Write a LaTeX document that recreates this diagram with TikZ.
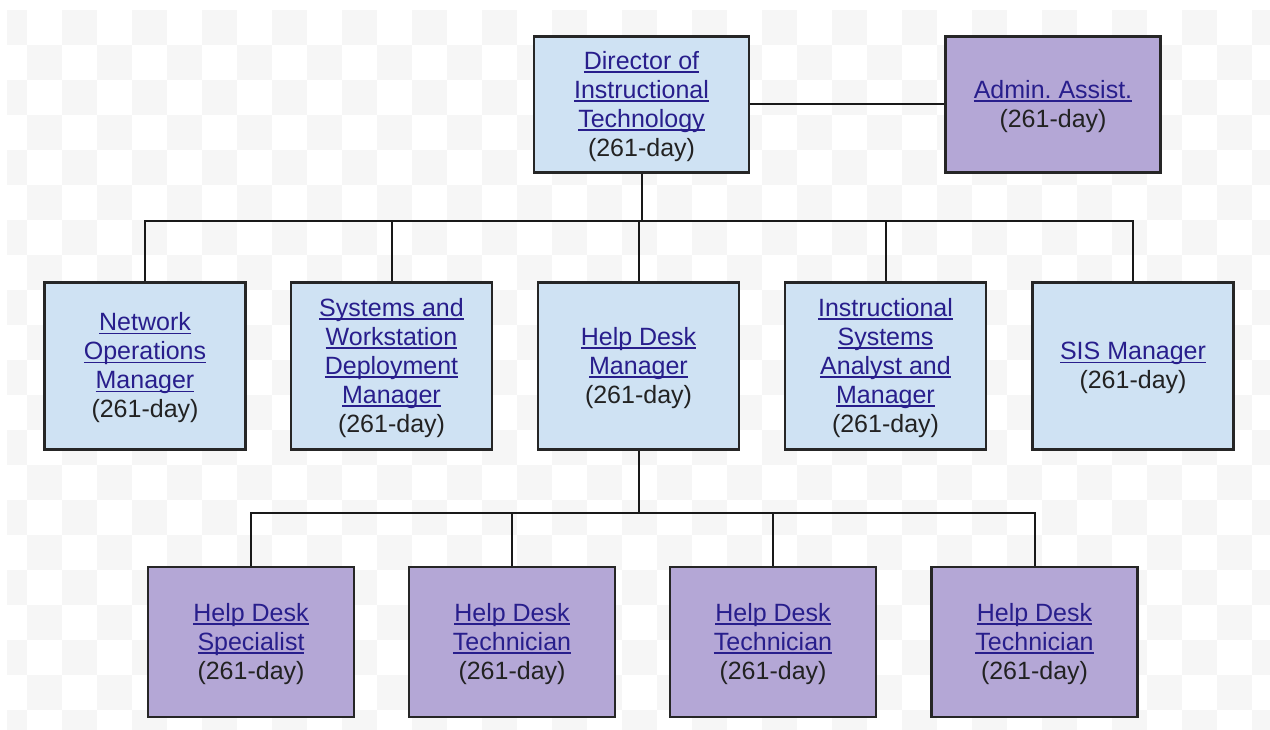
\documentclass[tikz,border=0pt]{standalone}
\usepackage{fontspec}
\setmainfont{Liberation Sans}
\frenchspacing
\definecolor{boxblue}{RGB}{207,226,243}
\definecolor{boxpurple}{RGB}{180,167,214}
\definecolor{lnkblue}{RGB}{40,30,140}
\definecolor{txtdark}{RGB}{34,34,34}
\definecolor{chk}{RGB}{246,246,246}
\newcommand\lnk[1]{{\color{lnkblue}\sbox0{#1}\rlap{\usebox0}\rule[-3.5pt]{\wd0}{1.5pt}}}
\newcommand\bt[1]{\raisebox{-2.5pt}[\height][\depth]{\begin{tabular}{@{}c@{}}#1\end{tabular}}}
\tikzset{
  orgbox/.style={draw=black!85, line width=2.2pt, inner sep=0pt,
    font=\fontsize{25}{29}\selectfont, text=txtdark},
  topbox/.style={orgbox, minimum width=215pt, minimum height=136pt},
  midbox/.style={orgbox, fill=boxblue, minimum width=201pt, minimum height=167pt},
  lowbox/.style={orgbox, fill=boxpurple, minimum width=206pt, minimum height=150pt},
  conn/.style={draw=black!90, line width=2pt}
}
\begin{document}
\begin{tikzpicture}[x=1pt,y=-1pt]
\useasboundingbox (0,0) rectangle (1270,730);
\fill[white] (0,0) rectangle (1270,730);
\begin{scope}
\clip (7,10) rectangle (1270,730);
\foreach \j in {0,...,20}{
  \foreach \i in {0,...,18}{
    \fill[chk] ({-8+70*\i+35*mod(\j,2)},{10+35*\j}) rectangle ++(35,35);
  }
}
\end{scope}

\node[topbox, fill=boxblue] (dir) at (641.5,104.5)
  {\bt{\lnk{Director of}\\\lnk{Instructional}\\\lnk{Technology}\\(261-day)}};
\node[topbox, fill=boxpurple] (adm) at (1053,104.5)
  {\bt{\lnk{Admin. Assist.}\\(261-day)}};

\node[midbox] (n1) at (145,366)
  {\bt{\lnk{Network}\\\lnk{Operations}\\\lnk{Manager}\\(261-day)}};
\node[midbox] (n2) at (391.5,366)
  {\bt{\lnk{Systems and}\\\lnk{Workstation}\\\lnk{Deployment}\\\lnk{Manager}\\(261-day)}};
\node[midbox] (n3) at (638.5,366)
  {\bt{\lnk{Help Desk}\\\lnk{Manager}\\(261-day)}};
\node[midbox] (n4) at (885.5,366)
  {\bt{\lnk{Instructional}\\\lnk{Systems}\\\lnk{Analyst and}\\\lnk{Manager}\\(261-day)}};
\node[midbox] (n5) at (1133,366)
  {\bt{\lnk{SIS Manager}\\(261-day)}};

\node[lowbox] (h1) at (251,642)
  {\bt{\lnk{Help Desk}\\\lnk{Specialist}\\(261-day)}};
\node[lowbox] (h2) at (512,642)
  {\bt{\lnk{Help Desk}\\\lnk{Technician}\\(261-day)}};
\node[lowbox] (h3) at (773,642)
  {\bt{\lnk{Help Desk}\\\lnk{Technician}\\(261-day)}};
\node[lowbox] (h4) at (1034.5,642)
  {\bt{\lnk{Help Desk}\\\lnk{Technician}\\(261-day)}};

\coordinate (busA) at (0,221);
\coordinate (busB) at (0,513);

\draw[conn] (dir.east) -- (adm.west);
\draw[conn] (dir.south) -- (dir.south |- busA);
\draw[conn] (n1.north) -- (n1.north |- busA) -- (n5.north |- busA) -- (n5.north);
\foreach \n in {n2,n3,n4}{
  \draw[conn] (\n.north) -- (\n.north |- busA);
}
\draw[conn] (n3.south) -- (n3.south |- busB);
\draw[conn] (h1.north) -- (h1.north |- busB) -- (h4.north |- busB) -- (h4.north);
\foreach \n in {h2,h3}{
  \draw[conn] (\n.north) -- (\n.north |- busB);
}
\end{tikzpicture}
\end{document}
